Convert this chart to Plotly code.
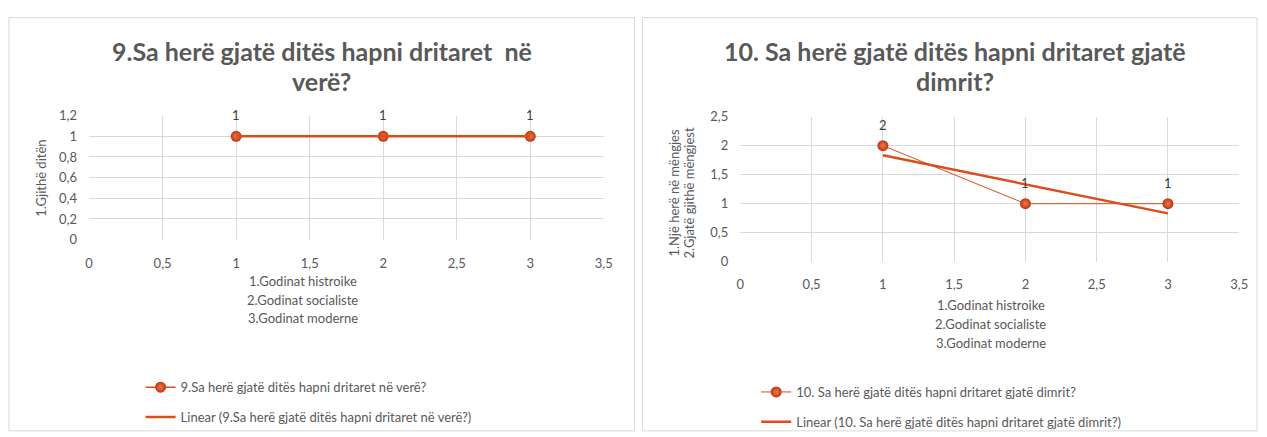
import numpy as np
import plotly.graph_objects as go

# Building groups on the x axis (1, 2, 3)
building_codes = [1, 2, 3]
building_names = ["1.Godinat histroike", "2.Godinat socialiste", "3.Godinat moderne"]

# Answers per building group
summer_answers = [1, 1, 1]
winter_answers = [2, 1, 1]

summer_title = ["9.Sa herë gjatë ditës hapni dritaret  në", "verë?"]
winter_title = ["10. Sa herë gjatë ditës hapni dritaret gjatë", "dimrit?"]
summer_name = "9.Sa herë gjatë ditës hapni dritaret në verë?"
winter_name = "10. Sa herë gjatë ditës hapni dritaret gjatë dimrit?"
summer_ylabel = "1.Gjithë ditën"
winter_ylabel = ["1.Një herë në mëngjes", "2.Gjatë gjithë mëngjest"]

W, H = 1267, 437
FONT = "Lato, 'Open Sans', sans-serif"
GREY = "#595959"
GRID = "#d9d9d9"
ORANGE = "#D94E1A"


def px(x):
    return x / W


def py(y):
    return 1 - y / H


def trend(xs, ys):
    slope, intercept = np.polyfit(xs, ys, 1)
    return [slope * x + intercept for x in xs]


fig = go.Figure()

marker = dict(size=11, color="#B83614", line=dict(width=0),
              gradient=dict(type="radial", color="#F47A45"))

# Summer panel
fig.add_trace(go.Scatter(
    x=building_codes, y=summer_answers, mode="lines+markers",
    line=dict(color=ORANGE, width=1.5), marker=marker,
    name=summer_name, xaxis="x", yaxis="y", legend="legend",
    legendgroup="a", cliponaxis=False))
fig.add_trace(go.Scatter(
    x=building_codes, y=trend(building_codes, summer_answers), mode="lines",
    line=dict(color=ORANGE, width=2.5),
    name="Linear (9.Sa herë gjatë ditës hapni dritaret në verë?)",
    xaxis="x", yaxis="y", legend="legend", legendgroup="b"))

# Winter panel
fig.add_trace(go.Scatter(
    x=building_codes, y=winter_answers, mode="lines+markers",
    line=dict(color=ORANGE, width=1), marker=marker,
    name=winter_name, xaxis="x2", yaxis="y2", legend="legend2",
    legendgroup="c", cliponaxis=False))
fig.add_trace(go.Scatter(
    x=building_codes, y=trend(building_codes, winter_answers), mode="lines",
    line=dict(color=ORANGE, width=2.5),
    name="Linear (10. Sa herë gjatë ditës hapni dritaret gjatë dimrit?)",
    xaxis="x2", yaxis="y2", legend="legend2", legendgroup="d"))

# Point value labels
for xa, ya, vals in [("x", "y", summer_answers), ("x2", "y2", winter_answers)]:
    for xv, yv in zip(building_codes, vals):
        fig.add_annotation(x=xv, y=yv, xref=xa, yref=ya, text=str(yv),
                           showarrow=False, yshift=21,
                           font=dict(size=13, color="#404040", family=FONT))

axis_common = dict(showgrid=True, gridcolor=GRID, gridwidth=1, zeroline=False,
                   showline=False, ticks="", color=GREY,
                   tickfont=dict(size=13, color=GREY, family=FONT))

fig.update_layout(
    width=W, height=H, margin=dict(l=0, r=0, t=0, b=0),
    paper_bgcolor="white", plot_bgcolor="white",
    separators=", ", font=dict(family=FONT, color=GREY),
    xaxis=dict(domain=[px(86), px(606)], range=[0, 3.5], dtick=0.5,
               anchor="y", ticklabelstandoff=14, **axis_common),
    yaxis=dict(domain=[py(241), py(112)], range=[0, 1.2], dtick=0.2,
               anchor="x", ticklabelstandoff=11, **axis_common),
    xaxis2=dict(domain=[px(744), px(1248)], range=[0, 3.5], dtick=0.5,
                anchor="y2", ticklabelstandoff=13, **axis_common),
    yaxis2=dict(domain=[py(264), py(113)], range=[0, 2.5], dtick=0.5,
                anchor="x2", ticklabelstandoff=11, **axis_common),
    legend=dict(x=px(138), y=py(379), xanchor="left", yanchor="top",
                font=dict(size=13, color=GREY, family=FONT),
                tracegroupgap=10, bgcolor="rgba(0,0,0,0)"),
    legend2=dict(x=px(760), y=py(384), xanchor="left", yanchor="top",
                 font=dict(size=13, color=GREY, family=FONT),
                 tracegroupgap=10, bgcolor="rgba(0,0,0,0)"),
    showlegend=True,
)

# Panel frames
for x0, x1 in [(5, 637), (645, 1266)]:
    fig.add_shape(type="rect", xref="paper", yref="paper",
                  x0=px(x0), x1=px(x1), y0=py(440), y1=py(10),
                  line=dict(color="#d9d9d9", width=1), fillcolor="rgba(0,0,0,0)",
                  layer="below")

# Titles, one annotation per line
for cx, lines in [(321, summer_title), (961, winter_title)]:
    for cy, txt in zip([45, 76], lines):
        fig.add_annotation(x=px(cx), y=py(cy), xref="paper", yref="paper",
                           text=f"<b>{txt}</b>", showarrow=False,
                           font=dict(size=25, color=GREY, family=FONT),
                           xanchor="center", yanchor="middle")

# X axis titles
for cx, ys in [(302, [284, 304, 323]), (997, [309, 329, 349])]:
    for cy, txt in zip(ys, building_names):
        fig.add_annotation(x=px(cx), y=py(cy), xref="paper", yref="paper",
                           text=txt, showarrow=False,
                           font=dict(size=13, color=GREY, family=FONT),
                           xanchor="center", yanchor="middle")

# Y axis titles
fig.add_annotation(x=px(37), y=py(177), xref="paper", yref="paper",
                   text=summer_ylabel, showarrow=False, textangle=-90,
                   font=dict(size=13, color=GREY, family=FONT),
                   xanchor="center", yanchor="middle")
for cx, txt in zip([676, 692], winter_ylabel):
    fig.add_annotation(x=px(cx), y=py(192), xref="paper", yref="paper",
                       text=txt, showarrow=False, textangle=-90,
                       font=dict(size=13, color=GREY, family=FONT),
                       xanchor="center", yanchor="middle")

fig.write_html("out.html")
